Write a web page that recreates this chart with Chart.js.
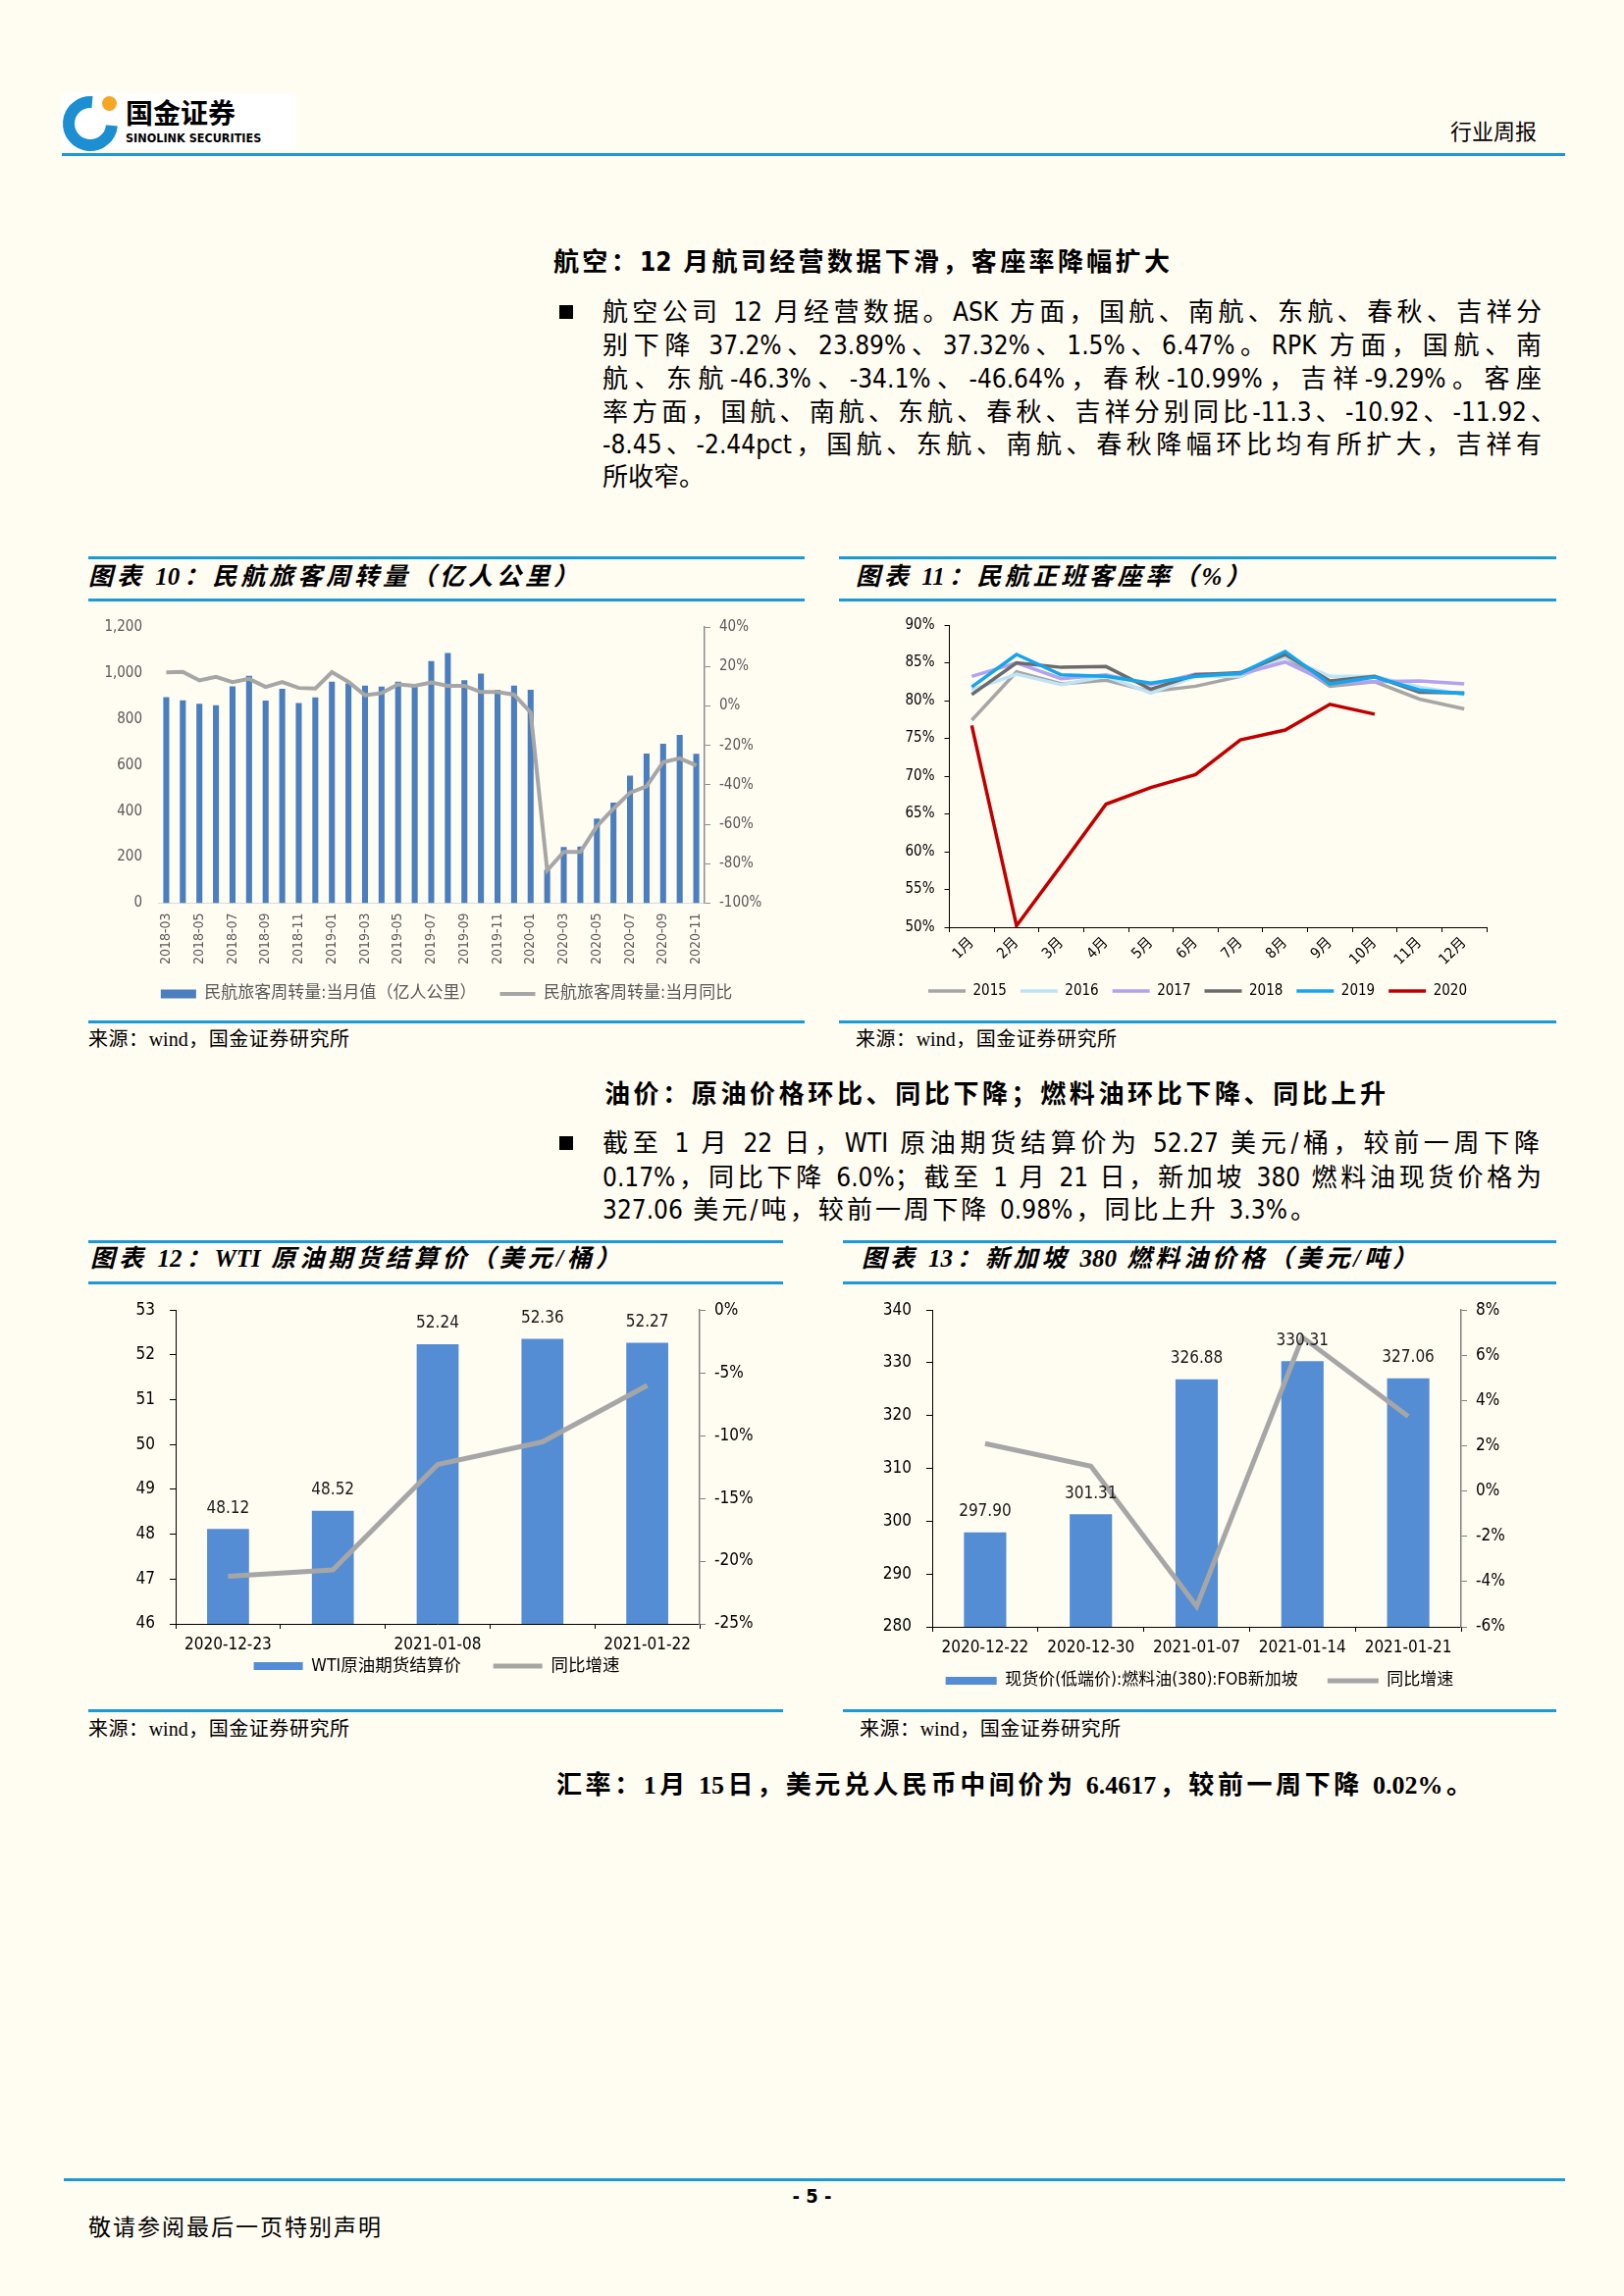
<!DOCTYPE html>
<html lang="zh-CN">
<head>
<meta charset="utf-8">
<title>行业周报 - 5</title>
<script src="https://cdn.jsdelivr.net/npm/chart.js@4.4.1/dist/chart.umd.min.js"></script>
<style>
  html, body { margin: 0; padding: 0; }
  body {
    width: 1655px; height: 2340px; position: relative; overflow: hidden;
    background: #fffcf2; color: #000;
    font-family: 'DejaVu Sans Condensed', 'Liberation Sans Narrow', 'Noto Sans CJK SC', sans-serif;
  }
  .rule { position: absolute; height: 3px; background: #1a9ad6; }
  .jl { position: absolute; white-space: nowrap; text-align: justify; text-align-last: justify; }
  .txt { position: absolute; white-space: nowrap; }
  .para { font-size: 26px; line-height: 34px; height: 34px; }
  .head { font-size: 26px; line-height: 34px; height: 34px; font-weight: bold; }
  .ctitle { font-size: 25px; line-height: 34px; height: 34px; font-weight: bold; font-style: italic;
            font-family: 'Liberation Serif', 'Noto Sans CJK SC', serif; }
  .src { font-size: 20px; line-height: 28px; height: 28px;
         font-family: 'Liberation Serif', 'Noto Sans CJK SC', serif; }
  .bullet { position: absolute; width: 14px; height: 14px; background: #000; }
  canvas { position: absolute; }
</style>
</head>
<body>

<!-- page header -->
<div style="position:absolute;left:62px;top:95px;width:240px;height:57px;background:#fff;"></div>
<div style="position:absolute;left:64px;top:98px;width:32px;height:32px;border:12px solid #1b8fd2;border-radius:50%;border-right-color:transparent;transform:rotate(-40deg);"></div>
<div style="position:absolute;left:104px;top:98px;width:15px;height:15px;border-radius:50%;background:#f5a623;"></div>
<div class="txt" style="left:128px;top:97px;font-size:28px;line-height:34px;font-weight:bold;font-family:'Noto Sans CJK SC';">国金证券</div>
<div class="txt" style="left:128px;top:133px;font-size:12.5px;line-height:16px;font-weight:bold;font-family:'DejaVu Sans Condensed','Liberation Sans Narrow',sans-serif;">SINOLINK SECURITIES</div>
<div class="txt" style="left:1478px;top:118px;font-size:22px;line-height:28px;font-family:'Noto Sans CJK SC';">行业周报</div>
<div class="rule" style="left:63px;top:156px;width:1532px;"></div>

<!-- aviation section -->
<div class="jl head" style="left:564px;top:250px;width:628px;">航空：12 月航司经营数据下滑，客座率降幅扩大</div>
<div class="bullet" style="left:570px;top:311px;"></div>
<div class="jl para" style="left:614px;top:301px;width:957px;">航空公司 12 月经营数据。ASK 方面，国航、南航、东航、春秋、吉祥分</div>
<div class="jl para" style="left:614px;top:335px;width:957px;">别下降 37.2%、23.89%、37.32%、1.5%、6.47%。RPK 方面，国航、南</div>
<div class="jl para" style="left:614px;top:369px;width:957px;">航、东航-46.3%、-34.1%、-46.64%，春秋-10.99%，吉祥-9.29%。客座</div>
<div class="jl para" style="left:614px;top:403px;width:972px;">率方面，国航、南航、东航、春秋、吉祥分别同比-11.3、-10.92、-11.92、</div>
<div class="jl para" style="left:614px;top:436px;width:957px;">-8.45、-2.44pct，国航、东航、南航、春秋降幅环比均有所扩大，吉祥有</div>
<div class="txt para" style="left:614px;top:469px;">所收窄。</div>

<!-- chart 10 frame -->
<div class="rule" style="left:90px;top:567px;width:730px;"></div>
<div class="jl ctitle" style="left:90px;top:571px;width:499px;">图表 10：民航旅客周转量（亿人公里）</div>
<div class="rule" style="left:90px;top:610px;width:730px;"></div>
<canvas id="rpkChart" width="730" height="426" style="left:90px;top:614px;"></canvas>
<div class="rule" style="left:90px;top:1040px;width:730px;"></div>
<div class="jl src" style="left:90px;top:1045px;width:266px;">来源：wind，国金证券研究所</div>

<!-- chart 11 frame -->
<div class="rule" style="left:855px;top:567px;width:731px;"></div>
<div class="jl ctitle" style="left:872px;top:571px;width:402px;">图表 11：民航正班客座率（%）</div>
<div class="rule" style="left:855px;top:610px;width:731px;"></div>
<canvas id="loadChart" width="731" height="426" style="left:855px;top:614px;"></canvas>
<div class="rule" style="left:855px;top:1040px;width:731px;"></div>
<div class="jl src" style="left:872px;top:1045px;width:266px;">来源：wind，国金证券研究所</div>

<!-- oil section -->
<div class="jl head" style="left:616px;top:1098px;width:796px;">油价：原油价格环比、同比下降；燃料油环比下降、同比上升</div>
<div class="bullet" style="left:570px;top:1158px;"></div>
<div class="jl para" style="left:614px;top:1148px;width:955px;">截至 1 月 22 日，WTI 原油期货结算价为 52.27 美元/桶，较前一周下降</div>
<div class="jl para" style="left:614px;top:1183px;width:957px;">0.17%，同比下降 6.0%；截至 1 月 21 日，新加坡 380 燃料油现货价格为</div>
<div class="jl para" style="left:614px;top:1216px;width:727px;">327.06 美元/吨，较前一周下降 0.98%，同比上升 3.3%。</div>

<!-- chart 12 frame -->
<div class="rule" style="left:90px;top:1264px;width:708px;"></div>
<div class="jl ctitle" style="left:92px;top:1266px;width:540px;">图表 12：WTI 原油期货结算价（美元/桶）</div>
<div class="rule" style="left:90px;top:1306px;width:708px;"></div>
<canvas id="wtiChart" width="710" height="431" style="left:90px;top:1310px;"></canvas>
<div class="rule" style="left:90px;top:1742px;width:708px;"></div>
<div class="jl src" style="left:90px;top:1748px;width:266px;">来源：wind，国金证券研究所</div>

<!-- chart 13 frame -->
<div class="rule" style="left:859px;top:1264px;width:727px;"></div>
<div class="jl ctitle" style="left:878px;top:1266px;width:566px;">图表 13：新加坡 380 燃料油价格（美元/吨）</div>
<div class="rule" style="left:859px;top:1306px;width:727px;"></div>
<canvas id="fuelChart" width="727" height="431" style="left:859px;top:1310px;"></canvas>
<div class="rule" style="left:859px;top:1742px;width:727px;"></div>
<div class="jl src" style="left:876px;top:1748px;width:266px;">来源：wind，国金证券研究所</div>

<!-- fx section -->
<div class="jl head" style="left:567px;top:1803px;width:933px;font-family:'Liberation Serif','Noto Sans CJK SC',serif;">汇率：1月 15日，美元兑人民币中间价为 6.4617，较前一周下降 0.02%。</div>

<!-- footer -->
<div class="rule" style="left:65px;top:2220px;width:1530px;"></div>
<div class="txt" style="left:0;width:1655px;top:2225px;text-align:center;font-size:20px;line-height:26px;font-weight:bold;">- 5 -</div>
<div class="jl" style="left:90px;top:2254px;width:298px;font-size:23px;line-height:28px;font-family:'Noto Sans CJK SC';">敬请参阅最后一页特别声明</div>

<script>
// ---- chart 10: passenger turnover ----
const rpkMonths = ['2018-03', '2018-04', '2018-05', '2018-06', '2018-07', '2018-08', '2018-09', '2018-10', '2018-11', '2018-12',
  '2019-01', '2019-02', '2019-03', '2019-04', '2019-05', '2019-06', '2019-07', '2019-08', '2019-09', '2019-10', '2019-11', '2019-12',
  '2020-01', '2020-02', '2020-03', '2020-04', '2020-05', '2020-06', '2020-07', '2020-08', '2020-09', '2020-10', '2020-11'];
const rpkValues = [895, 881, 866, 860, 942, 988, 880, 931, 870, 894,
  962, 955, 945, 941, 962, 941, 1052, 1087, 969, 997, 927, 945,
  927, 145, 244, 246, 368, 437, 554, 650, 693, 731, 649];
const rpkYoY = [17.0, 17.3, 12.9, 14.7, 12.1, 13.7, 9.6, 12.1, 9.1, 8.8,
  17.1, 12.2, 5.4, 6.5, 10.9, 10.2, 11.9, 10.2, 10.2, 7.0, 7.0, 5.7,
  -3.3, -83.4, -74.0, -74.0, -61.0, -52.1, -44.0, -40.7, -28.5, -26.6, -30.2];

// ---- chart 11: load factor ----
const loadMonths = ['1月', '2月', '3月', '4月', '5月', '6月', '7月', '8月', '9月', '10月', '11月', '12月'];
const load2015 = [77.4, 83.8, 82.2, 82.7, 81.2, 81.9, 83.2, 85.8, 81.9, 82.5, 80.2, 78.9];
const load2016 = [81.4, 83.5, 82.1, 83.2, 81.0, 83.2, 83.2, 85.8, 83.2, 83.2, 81.8, 80.8];
const load2017 = [83.2, 85.0, 82.9, 83.4, 82.1, 83.5, 83.5, 85.1, 82.3, 82.5, 82.6, 82.2];
const load2018 = [80.8, 85.0, 84.4, 84.5, 81.5, 83.4, 83.7, 86.1, 82.6, 83.2, 81.1, 81.0];
const load2019 = [81.8, 86.1, 83.4, 83.2, 82.3, 83.2, 83.6, 86.5, 82.2, 83.1, 81.4, 80.9];
const load2020 = [76.7, 50.2, 58.2, 66.3, 68.5, 70.2, 74.8, 76.1, 79.5, 78.2, null, null];

// ---- chart 12: WTI ----
const wtiDates = ['2020-12-23', '2020-12-31', '2021-01-08', '2021-01-15', '2021-01-22'];
const wtiPrice = [48.12, 48.52, 52.24, 52.36, 52.27];
const wtiYoY = [-21.2, -20.7, -12.3, -10.5, -6.0];

// ---- chart 13: Singapore 380 fuel oil ----
const fuelDates = ['2020-12-22', '2020-12-30', '2021-01-07', '2021-01-14', '2021-01-21'];
const fuelPrice = [297.90, 301.31, 326.88, 330.31, 327.06];
const fuelYoY = [2.1, 1.1, -5.1, 6.8, 3.3];

const SANS = "'DejaVu Sans Condensed', 'Liberation Sans Narrow', 'Noto Sans CJK SC', sans-serif";
Chart.defaults.font.family = SANS;
Chart.defaults.color = '#000';
Chart.defaults.animation = false;

const fixWidth = (w) => (scale) => { scale.width = w; };
// x axis with a fixed box height; its tick labels may run past the box into the legend padding
const fixHeight = (h) => (scale) => {
  scale.height = h;
  scale._computeLabelArea = () => undefined;
};
const byIndex = (a, b) => a.datasetIndex - b.datasetIndex;

// value labels above the bars (dataset 0)
const barLabels = {
  id: 'barLabels',
  afterDatasetsDraw(chart) {
    const ctx = chart.ctx;
    const values = chart.data.datasets[0].data;
    ctx.save();
    ctx.font = '17px ' + SANS;
    ctx.fillStyle = '#1a1a1a';
    ctx.textAlign = 'center';
    ctx.textBaseline = 'middle';
    chart.getDatasetMeta(0).data.forEach((bar, i) => {
      ctx.fillText(values[i].toFixed(2), bar.x, bar.y - 21);
    });
    ctx.restore();
  }
};

// Chart 10
new Chart(document.getElementById('rpkChart').getContext('2d'), {
  type: 'bar',
  data: {
    labels: rpkMonths,
    datasets: [
      {
        label: '民航旅客周转量:当月值（亿人公里）',
        data: rpkValues,
        backgroundColor: '#4a7ebf',
        barPercentage: 0.36,
        categoryPercentage: 1,
        yAxisID: 'y',
        pointStyle: 'rect',
        order: 1
      },
      {
        type: 'line',
        label: '民航旅客周转量:当月同比',
        data: rpkYoY,
        borderColor: '#a6a6a6',
        backgroundColor: '#a6a6a6',
        borderWidth: 4,
        pointRadius: 0,
        pointStyle: 'line',
        yAxisID: 'y1',
        order: 0
      }
    ]
  },
  options: {
    responsive: false,
    layout: { padding: { top: 19, left: 0, right: 0, bottom: 8.5 } },
    scales: {
      x: {
        afterFit: fixHeight(60),
        grid: { display: false, drawTicks: false },
        border: { color: '#d9d9d9' },
        ticks: {
          autoSkip: false, minRotation: 90, maxRotation: 90, padding: 10,
          color: '#595959', font: { size: 14 },
          callback: function (value, index) { return index % 2 === 0 ? this.getLabelForValue(value) : ''; }
        }
      },
      y: {
        afterFit: fixWidth(71),
        min: 0, max: 1200,
        grid: { display: false, drawTicks: false },
        border: { display: false },
        ticks: { stepSize: 200, padding: 16, color: '#595959', font: { size: 15 } }
      },
      y1: {
        position: 'right',
        afterFit: fixWidth(102),
        min: -100, max: 40,
        grid: { drawOnChartArea: false, drawTicks: true, tickLength: 6, tickColor: '#8c8c8c' },
        border: { color: '#8c8c8c', width: 1.5 },
        ticks: { stepSize: 20, padding: 9, color: '#595959', font: { size: 15 }, callback: (v) => v + '%' }
      }
    },
    plugins: {
      legend: {
        position: 'bottom',
        labels: {
          usePointStyle: true, pointStyleWidth: 36, boxHeight: 9, padding: 24,
          color: '#595959', font: { size: 17 }, sort: byIndex
        }
      },
      tooltip: { enabled: false }
    }
  }
});

// Chart 11
const lineSet = (label, data, color, order) => ({
  label: label, data: data, borderColor: color, backgroundColor: color,
  borderWidth: 3.5, pointRadius: 0, pointStyle: 'line', order: order, spanGaps: false
});
new Chart(document.getElementById('loadChart').getContext('2d'), {
  type: 'line',
  data: {
    labels: loadMonths,
    datasets: [
      lineSet('2015', load2015, '#a6a6a6', 6),
      lineSet('2016', load2016, '#bfe3f6', 5),
      lineSet('2017', load2017, '#b3a2ef', 4),
      lineSet('2018', load2018, '#6b6b6b', 3),
      lineSet('2019', load2019, '#16a5ec', 2),
      lineSet('2020', load2020, '#c00000', 1)
    ]
  },
  options: {
    responsive: false,
    layout: { padding: { top: 23, left: 0, right: 0, bottom: 12.5 } },
    scales: {
      x: {
        offset: true,
        afterFit: fixHeight(43.5),
        grid: { drawOnChartArea: false, offset: true, drawTicks: true, tickLength: 5, tickColor: '#000' },
        border: { color: '#000', width: 1 },
        ticks: { autoSkip: false, minRotation: 45, maxRotation: 45, padding: 2, font: { size: 15 } }
      },
      y: {
        afterFit: fixWidth(112.5),
        min: 50, max: 90,
        grid: { drawOnChartArea: false, drawTicks: true, tickLength: 5, tickColor: '#000' },
        border: { color: '#000', width: 1 },
        ticks: { stepSize: 5, padding: 10, font: { size: 15 }, callback: (v) => v + '%' }
      },
      // empty right-hand margin so the legend stays centred on the whole panel
      yPad: {
        position: 'right',
        afterFit: fixWidth(71),
        grid: { display: false, drawTicks: false },
        border: { display: false },
        ticks: { display: false }
      }
    },
    plugins: {
      legend: {
        position: 'bottom',
        labels: { usePointStyle: true, pointStyleWidth: 38, boxHeight: 4, padding: 14, font: { size: 15 }, sort: byIndex }
      },
      tooltip: { enabled: false }
    }
  }
});

// Chart 12
new Chart(document.getElementById('wtiChart').getContext('2d'), {
  type: 'bar',
  data: {
    labels: wtiDates,
    datasets: [
      {
        label: 'WTI原油期货结算价',
        data: wtiPrice,
        backgroundColor: '#548dd4',
        barPercentage: 0.4,
        categoryPercentage: 1,
        yAxisID: 'y',
        pointStyle: 'rect',
        order: 1
      },
      {
        type: 'line',
        label: '同比增速',
        data: wtiYoY,
        borderColor: '#a6a6a6',
        backgroundColor: '#a6a6a6',
        borderWidth: 5,
        pointRadius: 0,
        pointStyle: 'line',
        yAxisID: 'y1',
        order: 0
      }
    ]
  },
  options: {
    responsive: false,
    layout: { padding: { top: 22, left: 0, right: 0, bottom: 24.25 } },
    scales: {
      x: {
        afterFit: fixHeight(1.25),
        grid: { drawOnChartArea: false, offset: true, drawTicks: true, tickLength: 5, tickColor: '#000' },
        border: { color: '#000', width: 1 },
        ticks: {
          autoSkip: false, maxRotation: 0, padding: 6, font: { size: 17 },
          callback: function (value, index) { return index % 2 === 0 ? this.getLabelForValue(value) : ''; }
        }
      },
      y: {
        afterFit: fixWidth(89),
        min: 46, max: 53,
        grid: { drawOnChartArea: false, drawTicks: true, tickLength: 6, tickColor: '#000' },
        border: { color: '#000', width: 1 },
        ticks: { stepSize: 1, padding: 15, font: { size: 17 } }
      },
      y1: {
        position: 'right',
        afterFit: fixWidth(87),
        min: -25, max: 0,
        grid: { drawOnChartArea: false, drawTicks: true, tickLength: 6, tickColor: '#808080' },
        border: { color: '#808080', width: 1.5 },
        ticks: { stepSize: 5, padding: 9, font: { size: 17 }, callback: (v) => v + '%' }
      }
    },
    plugins: {
      legend: {
        position: 'bottom',
        labels: { usePointStyle: true, pointStyleWidth: 50, boxHeight: 8, padding: 33, font: { size: 17.5 }, sort: byIndex }
      },
      tooltip: { enabled: false }
    }
  },
  plugins: [barLabels]
});

// Chart 13
new Chart(document.getElementById('fuelChart').getContext('2d'), {
  type: 'bar',
  data: {
    labels: fuelDates,
    datasets: [
      {
        label: '现货价(低端价):燃料油(380):FOB新加坡',
        data: fuelPrice,
        backgroundColor: '#548dd4',
        barPercentage: 0.4,
        categoryPercentage: 1,
        yAxisID: 'y',
        pointStyle: 'rect',
        order: 1
      },
      {
        type: 'line',
        label: '同比增速',
        data: fuelYoY,
        borderColor: '#a6a6a6',
        backgroundColor: '#a6a6a6',
        borderWidth: 5,
        pointRadius: 0,
        pointStyle: 'line',
        yAxisID: 'y1',
        order: 0
      }
    ]
  },
  options: {
    responsive: false,
    layout: { padding: { top: 14, left: 0, right: 0, bottom: 9.5 } },
    scales: {
      x: {
        afterFit: fixHeight(16.5),
        grid: { drawOnChartArea: false, offset: true, drawTicks: true, tickLength: 5, tickColor: '#000' },
        border: { color: '#000', width: 1 },
        ticks: { autoSkip: false, maxRotation: 0, padding: 6, font: { size: 17 } }
      },
      y: {
        afterFit: fixWidth(91),
        min: 280, max: 340,
        grid: { drawOnChartArea: false, drawTicks: true, tickLength: 6, tickColor: '#000' },
        border: { color: '#000', width: 1 },
        ticks: { stepSize: 10, padding: 15, font: { size: 17 } }
      },
      y1: {
        position: 'right',
        afterFit: fixWidth(97),
        min: -6, max: 8,
        grid: { drawOnChartArea: false, drawTicks: true, tickLength: 6, tickColor: '#808080' },
        border: { color: '#808080', width: 1.5 },
        ticks: { stepSize: 2, padding: 9, font: { size: 17 }, callback: (v) => v + '%' }
      }
    },
    plugins: {
      legend: {
        position: 'bottom',
        labels: { usePointStyle: true, pointStyleWidth: 52, boxHeight: 8, padding: 30, font: { size: 17 }, sort: byIndex }
      },
      tooltip: { enabled: false }
    }
  },
  plugins: [barLabels]
});
</script>
</body>
</html>
